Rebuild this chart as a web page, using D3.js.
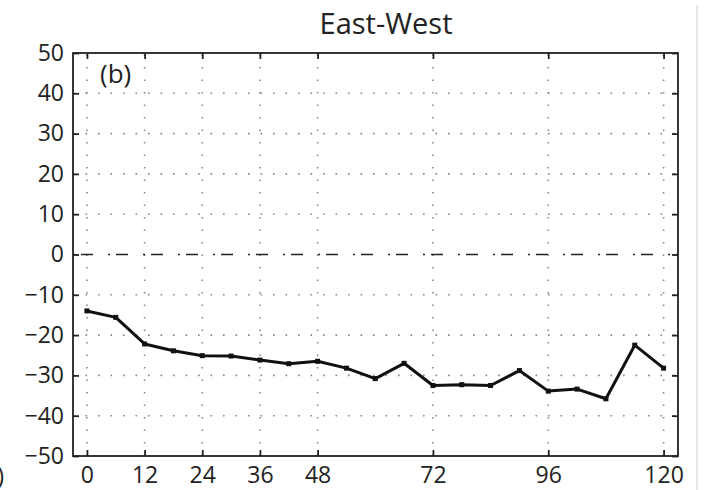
<!DOCTYPE html>
<html>
<head>
<meta charset="utf-8">
<script src="https://cdn.jsdelivr.net/npm/d3@7"></script>
<style>
  body { margin: 0; background: #fff; }
  text { font-family: "Open Sans", "Noto Sans", sans-serif; fill: #222; }
</style>
</head>
<body>
<div id="chart"></div>
<script>
// data, every 6 hours
var hours = [0, 6, 12, 18, 24, 30, 36, 42, 48, 54, 60, 66, 72, 78, 84, 90, 96, 102, 108, 114, 120];
var values = [-14.0, -15.6, -22.2, -23.9, -25.1, -25.2, -26.2, -27.1, -26.5, -28.2, -30.8,
    -27.0, -32.5, -32.3, -32.5, -28.8, -33.9, -33.4, -35.8, -22.5, -28.2];
var x_ticks = [0, 12, 24, 36, 48, 72, 96, 120];
var y_ticks = [-50, -40, -30, -20, -10, 0, 10, 20, 30, 40, 50];

var width = 704, height = 490;
var plot_left = 73, plot_right = 678, plot_top = 53, plot_bottom = 456;

var svg = d3.select('#chart').append('svg')
    .attr('width', width).attr('height', height);

var x = d3.scaleLinear().domain([-2.9, 123]).range([plot_left, plot_right]);
var y = d3.scaleLinear().domain([-50, 50]).range([plot_bottom, plot_top]);

// dotted grid
var grid = svg.append('g').attr('stroke', '#888').attr('stroke-width', 1.6)
    .attr('stroke-dasharray', '1.6,10.9');
grid.selectAll('.vg').data(x_ticks).enter().append('line')
    .attr('x1', function(d) { return x(d); }).attr('x2', function(d) { return x(d); })
    .attr('y1', plot_bottom).attr('y2', plot_top);
grid.selectAll('.hg').data(y_ticks.filter(function(d) { return d != 0 && Math.abs(d) != 50; }))
    .enter().append('line')
    .attr('y1', function(d) { return y(d); }).attr('y2', function(d) { return y(d); })
    .attr('x1', plot_left).attr('x2', plot_right);

// zero line, dash-dot
svg.append('line')
    .attr('x1', plot_left).attr('x2', plot_right).attr('y1', y(0)).attr('y2', y(0))
    .attr('stroke', '#222').attr('stroke-width', 1.6)
    .attr('stroke-dasharray', '12,15,2,6').attr('stroke-dashoffset', -8);

// frame
svg.append('rect')
    .attr('x', plot_left).attr('y', plot_top)
    .attr('width', plot_right - plot_left).attr('height', plot_bottom - plot_top)
    .attr('fill', 'none').attr('stroke', '#222').attr('stroke-width', 1.8);

// axes with inward ticks
var tick_len = 6;
svg.append('g').attr('transform', 'translate(' + plot_left + ',0)')
    .call(d3.axisLeft(y).tickValues(y_ticks).tickSizeInner(-tick_len).tickSizeOuter(0)
        .tickPadding(9).tickFormat(function(d) { return d < 0 ? '\u2212' + (-d) : d; }));
svg.append('g').attr('transform', 'translate(' + plot_right + ',0)')
    .call(d3.axisRight(y).tickValues(y_ticks).tickSizeInner(-tick_len).tickSizeOuter(0)
        .tickFormat(''));
svg.append('g').attr('transform', 'translate(0,' + plot_bottom + ')')
    .call(d3.axisBottom(x).tickValues(x_ticks).tickSizeInner(-tick_len).tickSizeOuter(0)
        .tickPadding(11));
svg.append('g').attr('transform', 'translate(0,' + plot_top + ')')
    .call(d3.axisTop(x).tickValues(x_ticks).tickSizeInner(-tick_len).tickSizeOuter(0)
        .tickFormat(''));

svg.selectAll('.domain').remove();
svg.selectAll('.tick line').attr('stroke', '#222').attr('stroke-width', 1.8);
svg.selectAll('.tick text').attr('font-size', 23).attr('fill', '#222')
    .style('font-family', '"Open Sans", "Noto Sans", sans-serif');

// data line
var line = d3.line()
    .x(function(d, i) { return x(hours[i]); })
    .y(function(d) { return y(d); });
svg.append('path').datum(values)
    .attr('d', line).attr('fill', 'none')
    .attr('stroke', '#111').attr('stroke-width', 3).attr('stroke-linejoin', 'round');
svg.selectAll('.pt').data(values).enter().append('rect')
    .attr('x', function(d, i) { return x(hours[i]) - 2.5; })
    .attr('y', function(d) { return y(d) - 2.5; })
    .attr('width', 5).attr('height', 5).attr('fill', '#111');

// labels
svg.append('text').attr('x', 386).attr('y', 34)
    .attr('text-anchor', 'middle').attr('font-size', 29).text('East-West');
svg.append('text').attr('x', 100).attr('y', 83)
    .attr('font-size', 26).text('(b)');
svg.append('text').attr('x', 4).attr('y', 484)
    .attr('text-anchor', 'end').attr('font-size', 23).text('(0)');

// faint border on the right
svg.append('line').attr('x1', 697).attr('x2', 697).attr('y1', 5).attr('y2', height)
    .attr('stroke', '#ccc').attr('stroke-width', 1);
</script>
</body>
</html>
